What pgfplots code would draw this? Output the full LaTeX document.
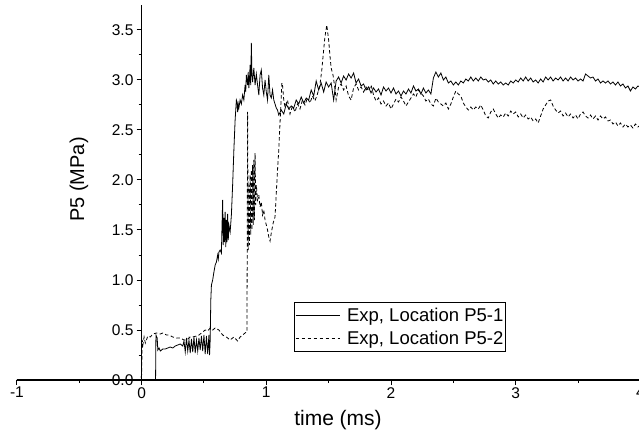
\documentclass[border=0pt]{standalone}
\usepackage{fontspec}
\setmainfont{Liberation Sans}
\usepackage{pgfplots}
\pgfplotsset{compat=1.18}
\newcommand{\tfont}{\fontsize{15.5}{18}\selectfont}
\begin{document}
\begin{tikzpicture}
\begin{axis}[
  at={(0,0)}, anchor=origin,
  x=124.7pt, y=100pt,
  xmin=-1, xmax=4, ymin=0, ymax=3.75,
  axis lines=middle,
  axis line style={-, line width=1.1pt},
  hide obscured x ticks=false, hide obscured y ticks=false,
  tick align=outside,
  major tick length=5pt, minor tick length=3pt,
  every tick/.style={line width=1pt, black},
  xtick={-1,0,1,2,3,4}, xticklabels={-1,0,1,2,3,4},
  ytick={0,0.5,1,1.5,2,2.5,3,3.5},
  yticklabels={0.0,0.5,1.0,1.5,2.0,2.5,3.0,3.5},
  minor x tick num=1, minor y tick num=1,
  xticklabel style={font=\tfont, inner sep=1pt, yshift=-1pt},
  yticklabel style={font=\tfont, inner sep=1pt, xshift=-2pt},
  xlabel={time (ms)}, ylabel={P5 (MPa)},
  every axis x label/.style={at={(axis cs:1.575,-0.45)}, anchor=base, font=\fontsize{21}{25}\selectfont},
  every axis y label/.style={at={(axis cs:-0.502,2.005)}, anchor=center, rotate=90, font=\fontsize{20}{24}\selectfont},
  legend style={at={(axis description cs:0.4444,0.208)}, anchor=north west, draw=black, line width=0.8pt,
    font=\fontsize{18.5}{22}\selectfont, inner xsep=1pt, inner ysep=4.5pt, row sep=6pt,
    nodes={inner sep=1pt},
    /tikz/every odd column/.append style={column sep=6pt}},
  legend cell align=left,
  legend image code/.code={\draw[#1, line width=0.7pt] (0pt,0pt) -- (44pt,0pt);},
  clip=false,
]
\addplot[black, line width=0.8pt] coordinates {
(-1,0) (-0.8,0.005) (-0.6,0) (-0.4,0.005) (-0.2,0) (0,0) (0.1,0) (0.112,0) (0.115,0.45) (0.125,0.42) (0.13,0.30) (0.14,0.32) (0.15,0.29) (0.17,0.31) (0.19,0.31) (0.21,0.32) (0.23,0.33) (0.25,0.32) (0.27,0.34) (0.29,0.35) (0.31,0.36) (0.33,0.34) (0.34,0.39) (0.35,0.28) (0.36,0.42) (0.37,0.29) (0.38,0.40) (0.39,0.27) (0.40,0.41) (0.41,0.28) (0.42,0.43) (0.43,0.27) (0.44,0.40) (0.45,0.29) (0.46,0.42) (0.47,0.30) (0.48,0.44) (0.49,0.29) (0.50,0.45) (0.51,0.26) (0.52,0.44) (0.53,0.26) (0.54,0.45) (0.545,0.25) (0.55,0.40) (0.555,0.80) (0.56,0.95) (0.57,1.00) (0.58,1.08) (0.59,1.15) (0.60,1.18) (0.61,1.25) (0.615,1.21) (0.62,1.28) (0.63,1.30) (0.64,1.27) (0.645,1.55) (0.65,1.80) (0.655,1.35) (0.66,1.62) (0.665,1.38) (0.67,1.68) (0.675,1.33) (0.68,1.60) (0.685,1.38) (0.69,1.66) (0.695,1.40) (0.70,1.55) (0.71,1.48) (0.72,1.65) (0.73,1.95) (0.74,2.30) (0.75,2.60) (0.76,2.80) (0.765,2.78) (0.77,2.68) (0.775,2.76) (0.78,2.72) (0.79,2.80) (0.80,2.76) (0.81,2.85) (0.82,2.80) (0.83,2.95) (0.835,2.88) (0.84,3.05) (0.85,2.95) (0.855,3.08) (0.86,2.92) (0.865,3.00) (0.87,3.15) (0.875,2.95) (0.88,3.37) (0.885,3.05) (0.89,2.98) (0.90,3.12) (0.91,2.95) (0.92,3.06) (0.93,2.95) (0.94,2.85) (0.95,3.05) (0.96,3.10) (0.97,2.92) (0.98,2.85) (0.99,3.00) (1.00,2.88) (1.01,2.80) (1.02,3.05) (1.03,2.85) (1.04,2.82) (1.05,2.90) (1.06,2.80) (1.07,2.76) (1.08,2.72) (1.09,2.70) (1.10,2.65)
(1.12,2.70) (1.14,2.66) (1.16,2.76) (1.18,2.71) (1.20,2.74) (1.22,2.72) (1.24,2.80) (1.26,2.76) (1.28,2.83) (1.30,2.77) (1.32,2.82) (1.34,2.80) (1.36,2.90) (1.38,2.84) (1.40,2.99) (1.42,2.90) (1.44,2.97) (1.46,2.88) (1.48,2.98) (1.50,2.93) (1.52,2.97) (1.54,2.80) (1.56,2.99) (1.58,3.03) (1.60,2.97) (1.62,3.04) (1.64,3.00) (1.66,3.06) (1.68,3.02) (1.70,3.07) (1.72,2.97) (1.74,3.01) (1.76,2.94) (1.78,2.96) (1.80,2.90) (1.82,2.93) (1.84,2.87) (1.86,2.92) (1.88,2.88) (1.90,2.91) (1.92,2.85) (1.94,2.93) (1.96,2.89) (1.98,2.92) (2.00,2.87) (2.02,2.92) (2.04,2.86) (2.06,2.89) (2.08,2.84) (2.10,2.89) (2.12,2.86) (2.14,2.91) (2.16,2.87) (2.18,2.94) (2.20,2.89) (2.22,2.91) (2.24,2.86) (2.26,2.92) (2.28,2.87) (2.30,2.90) (2.32,2.86) (2.34,3.02) (2.36,3.08) (2.38,3.03) (2.40,3.07) (2.42,3.00) (2.44,3.03) (2.46,2.97) (2.48,2.99) (2.50,2.95) (2.52,2.98) (2.54,2.95) (2.56,2.99) (2.58,2.97) (2.60,3.01) (2.62,2.99) (2.64,3.03) (2.66,2.99) (2.68,3.02) (2.70,2.99) (2.72,3.03) (2.74,3.00) (2.76,3.01) (2.78,2.98) (2.80,3.00) (2.82,2.96) (2.84,2.99) (2.86,2.96) (2.88,2.98) (2.90,2.95) (2.92,2.97) (2.94,2.95) (2.96,2.99) (2.98,2.97) (3.00,3.00) (3.02,2.98) (3.04,3.02) (3.06,2.99) (3.08,3.03) (3.10,2.99) (3.12,3.02) (3.14,2.98) (3.16,3.00) (3.18,2.97) (3.20,3.01) (3.22,2.98) (3.24,3.03) (3.26,3.00) (3.28,3.03) (3.30,2.99) (3.32,3.02) (3.34,3.00) (3.36,3.03) (3.38,2.99) (3.40,3.02) (3.42,2.99) (3.44,3.03) (3.46,3.00) (3.48,3.02) (3.50,2.99) (3.52,3.01) (3.54,2.99) (3.56,3.06) (3.58,3.04) (3.60,3.02) (3.62,3.03) (3.64,2.99) (3.66,3.01) (3.68,2.97) (3.70,2.99) (3.72,2.97) (3.74,2.99) (3.76,2.96) (3.78,2.98) (3.80,2.95) (3.82,2.98) (3.84,2.94) (3.86,2.96) (3.88,2.92) (3.90,2.94) (3.92,2.89) (3.94,2.93) (3.96,2.91) (3.98,2.94) (4.00,2.93)
};
\addlegendentry{Exp, Location P5-1}
\addplot[black, line width=0.8pt, dash pattern=on 3.5pt off 2.5pt] coordinates {
(-1,0) (-0.8,0.005) (-0.6,0) (-0.4,0.005) (-0.2,0) (-0.01,0) (0.0,0.05) (0.005,0.40) (0.01,0.35) (0.02,0.43) (0.03,0.37) (0.05,0.44) (0.07,0.43) (0.09,0.46) (0.12,0.47) (0.15,0.46) (0.17,0.47) (0.20,0.45) (0.22,0.45) (0.25,0.43) (0.28,0.42) (0.31,0.42) (0.34,0.40) (0.36,0.40) (0.39,0.43) (0.41,0.43) (0.44,0.44) (0.46,0.45) (0.49,0.48) (0.51,0.50) (0.53,0.49) (0.55,0.52) (0.57,0.50) (0.59,0.52) (0.62,0.50) (0.65,0.45) (0.68,0.43) (0.71,0.40) (0.74,0.43) (0.77,0.39) (0.79,0.43) (0.81,0.45) (0.84,0.48) (0.845,0.48) (0.85,2.68) (0.855,1.30) (0.86,1.95) (0.865,1.35) (0.87,2.05) (0.875,1.45) (0.88,2.10) (0.885,1.50) (0.89,2.15) (0.895,1.55) (0.90,2.20) (0.905,1.60) (0.91,2.27) (0.915,1.75) (0.92,1.95) (0.93,1.80) (0.94,1.85) (0.95,1.73) (0.96,1.78) (0.97,1.65) (0.98,1.70) (0.99,1.60) (1.00,1.55) (1.01,1.50) (1.02,1.43) (1.03,1.39) (1.04,1.47) (1.055,1.57) (1.07,1.63) (1.09,2.10) (1.10,2.30) (1.11,2.57) (1.125,2.97) (1.13,2.95) (1.14,2.80)
(1.15,2.73) (1.17,2.80) (1.19,2.66) (1.21,2.74) (1.23,2.68) (1.25,2.76) (1.27,2.71) (1.29,2.80) (1.31,2.75) (1.33,2.82) (1.35,2.77) (1.37,2.84) (1.39,2.79) (1.41,2.86) (1.43,2.95) (1.445,3.10) (1.46,3.30) (1.47,3.43) (1.485,3.55) (1.50,3.40) (1.51,3.25) (1.52,3.12) (1.535,3.05) (1.55,2.92) (1.56,2.80) (1.58,2.93) (1.60,2.96) (1.62,2.90) (1.64,2.94) (1.66,2.84) (1.68,2.80) (1.70,2.92) (1.72,2.96) (1.74,2.90) (1.76,2.93) (1.78,2.88) (1.80,2.93) (1.82,2.89) (1.84,2.95) (1.86,2.85) (1.88,2.79) (1.90,2.82) (1.92,2.76) (1.94,2.79) (1.96,2.74) (1.98,2.77) (2.00,2.71) (2.02,2.76) (2.04,2.81) (2.06,2.78) (2.08,2.83) (2.10,2.79) (2.12,2.74) (2.14,2.78) (2.16,2.82) (2.18,2.86) (2.20,2.83) (2.22,2.90) (2.24,2.87) (2.26,2.84) (2.28,2.79) (2.30,2.81) (2.32,2.76) (2.34,2.74) (2.36,2.82) (2.38,2.78) (2.40,2.76) (2.42,2.74) (2.44,2.77) (2.46,2.71) (2.48,2.76) (2.50,2.83) (2.52,2.89) (2.54,2.86) (2.56,2.84) (2.58,2.77) (2.60,2.73) (2.62,2.70) (2.64,2.73) (2.66,2.70) (2.68,2.73) (2.70,2.71) (2.72,2.75) (2.74,2.70) (2.76,2.64) (2.78,2.62) (2.80,2.68) (2.82,2.71) (2.84,2.66) (2.86,2.62) (2.88,2.65) (2.90,2.63) (2.92,2.67) (2.94,2.64) (2.96,2.69) (2.98,2.66) (3.00,2.68) (3.02,2.63) (3.04,2.66) (3.06,2.62) (3.08,2.65) (3.10,2.61) (3.12,2.63) (3.14,2.59) (3.16,2.61) (3.18,2.57) (3.20,2.64) (3.22,2.71) (3.24,2.75) (3.26,2.79) (3.28,2.80) (3.30,2.74) (3.32,2.70) (3.34,2.67) (3.36,2.69) (3.38,2.64) (3.40,2.67) (3.42,2.63) (3.44,2.66) (3.46,2.62) (3.48,2.65) (3.50,2.61) (3.52,2.66) (3.54,2.68) (3.56,2.64) (3.58,2.62) (3.60,2.65) (3.62,2.61) (3.64,2.64) (3.66,2.60) (3.68,2.64) (3.70,2.61) (3.72,2.63) (3.74,2.59) (3.76,2.60) (3.78,2.56) (3.80,2.58) (3.82,2.54) (3.84,2.57) (3.86,2.53) (3.88,2.56) (3.90,2.53) (3.92,2.55) (3.94,2.52) (3.96,2.56) (3.98,2.53) (4.00,2.55)
};
\addlegendentry{Exp, Location P5-2}
\end{axis}
\pgfresetboundingbox
\useasboundingbox (-141.6pt,-59pt) rectangle (497.4pt,380pt);
\end{tikzpicture}
\end{document}
